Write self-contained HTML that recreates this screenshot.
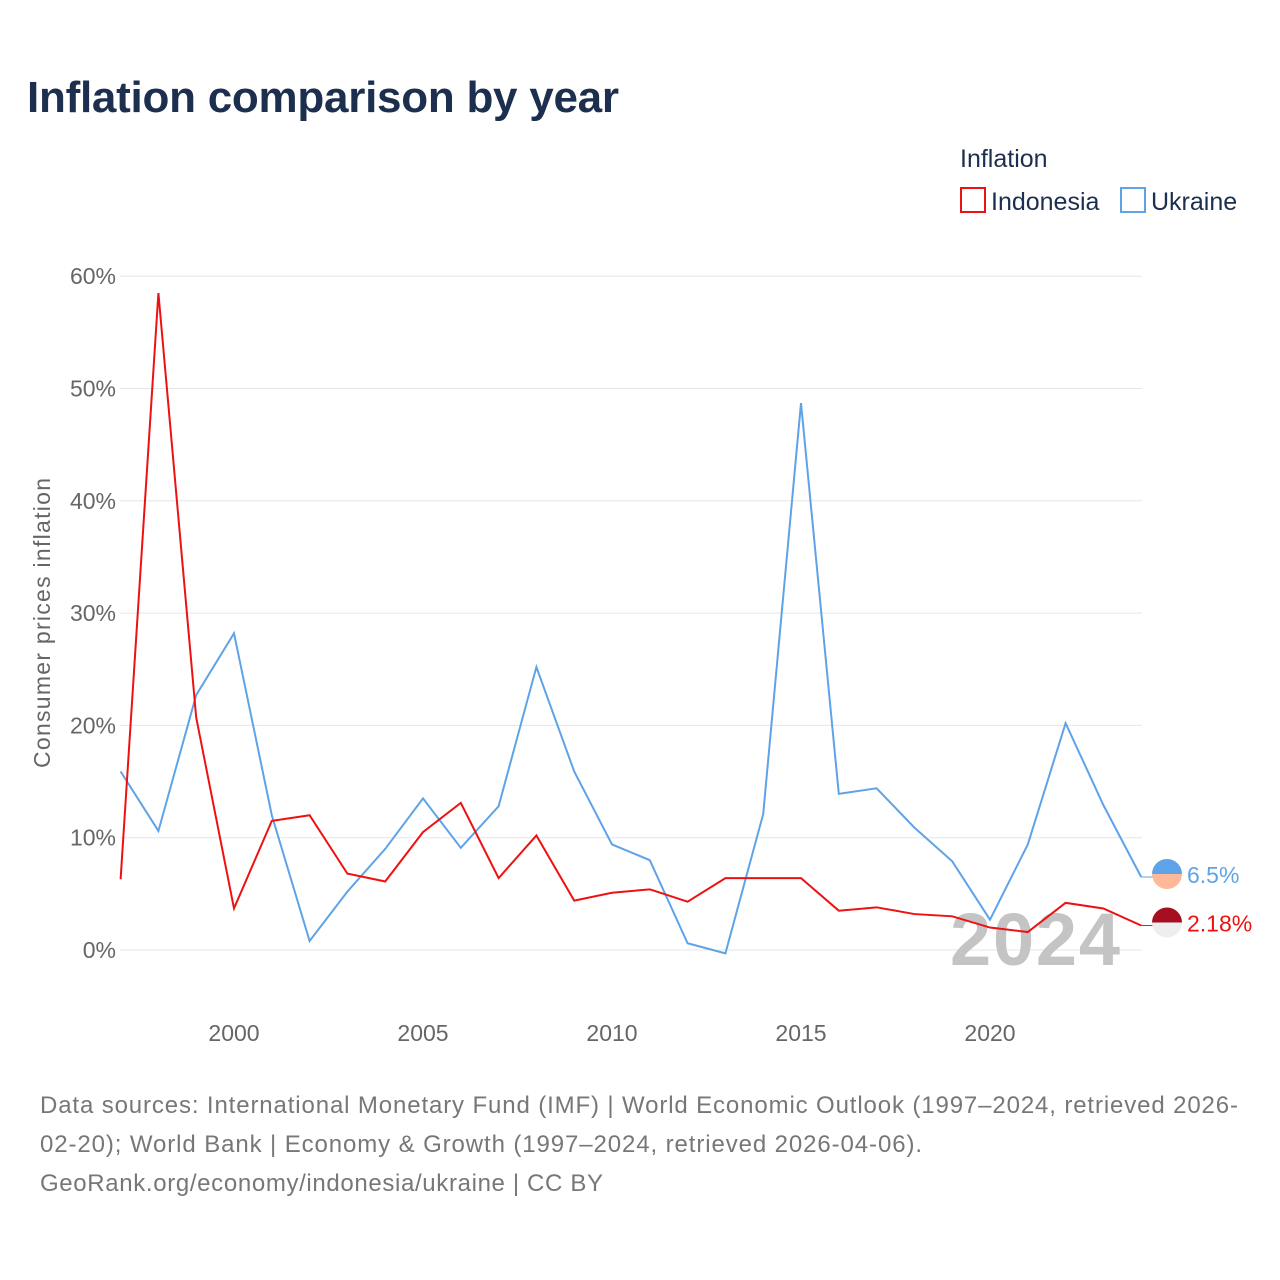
<!DOCTYPE html>
<html><head><meta charset="utf-8"><style>
body{margin:0;background:#fff;font-family:"Liberation Sans",sans-serif}
#wrap{position:relative;width:1280px;height:1280px;overflow:hidden}
</style></head><body>
<div id="wrap">
<svg id="chart" width="1280" height="1280">
<text x="27" y="112" font-size="44" font-weight="bold" fill="#1c2f4e" textLength="592">Inflation comparison by year</text>
<g>
<text x="960" y="167" font-size="25" fill="#1c2f4e">Inflation</text>
<g><rect x="961" y="188" width="24" height="24" fill="none" stroke="#ee1111" stroke-width="2"/><text x="991" y="210" font-size="25" fill="#1c2f4e">Indonesia</text></g>
<g><rect x="1121" y="188" width="24" height="24" fill="none" stroke="#5ea3e8" stroke-width="2"/><text x="1151" y="210" font-size="25" fill="#1c2f4e">Ukraine</text></g>
</g>
<g id="grid"></g><g id="xt"></g>
<text transform="translate(50,623) rotate(-90)" text-anchor="middle" font-size="23" fill="#666" textLength="290">Consumer prices inflation</text>
<text x="1120" y="965" text-anchor="end" font-size="74" font-weight="bold" fill="#c4c4c4" textLength="170">2024</text>
<g id="lines"></g>
<g font-size="24" fill="#777">
<text x="40" y="1113" textLength="1198">Data sources: International Monetary Fund (IMF) | World Economic Outlook (1997–2024, retrieved 2026-</text>
<text x="40" y="1152" textLength="882">02-20); World Bank | Economy &amp; Growth (1997–2024, retrieved 2026-04-06).</text>
<text x="40" y="1191" textLength="563">GeoRank.org/economy/indonesia/ukraine | CC BY</text>
</g>
</svg></div>
<script>
const years=[1997,1998,1999,2000,2001,2002,2003,2004,2005,2006,2007,2008,2009,2010,2011,2012,2013,2014,2015,2016,2017,2018,2019,2020,2021,2022,2023,2024];
const indonesia=[6.3,58.5,20.7,3.7,11.5,12.0,6.8,6.1,10.5,13.1,6.4,10.2,4.4,5.1,5.4,4.3,6.4,6.4,6.4,3.5,3.8,3.2,3.0,2.0,1.6,4.2,3.7,2.18];
const ukraine=[15.9,10.6,22.7,28.2,12.0,0.8,5.2,9.0,13.5,9.1,12.8,25.2,15.9,9.4,8.0,0.6,-0.3,12.1,48.7,13.9,14.4,10.9,7.9,2.7,9.4,20.2,12.9,6.5];
const yTicks=[0,10,20,30,40,50,60];
const xTicks=[2000,2005,2010,2015,2020];
const NS="http://www.w3.org/2000/svg";
const X=v=>120.6+(v-1997)*37.8;
const Y=v=>950-v*11.23;
function mk(tag,attrs,parent){const e=document.createElementNS(NS,tag);for(const k in attrs)e.setAttribute(k,attrs[k]);parent.appendChild(e);return e;}
const grid=document.getElementById('grid');
yTicks.forEach(t=>{
 const l=mk('line',{x1:120,x2:1142,y1:Y(t),y2:Y(t),stroke:'#e6e6e6','stroke-width':1},grid);
 
 
 const tx=mk('text',{x:116,y:Y(t)+8,'text-anchor':'end','font-size':23,fill:'#666'},grid);tx.textContent=t+'%';
 
 
});
const xt=document.getElementById('xt');
xTicks.forEach(t=>{
 const tx=mk('text',{x:X(t),y:1041,'text-anchor':'middle','font-size':23,fill:'#666'},xt);tx.textContent=t;
 
 
});
const lines=document.getElementById('lines');
function series(vals,color,name){
 const p=mk('polyline',{points:vals.map((v,i)=>X(years[i])+','+Y(v)).join(' '),fill:'none',stroke:color,'stroke-width':2},lines);
 
 
}
series(ukraine,'#5ea3e8','ukraine-line');
series(indonesia,'#ee1111','indonesia-line');
const last=years.length-1;
function endLabel(v,color,top,bot,text,name){
 const y=Y(v)-3;
 mk('line',{x1:X(years[last]),x2:1155,y1:Y(v),y2:Y(v),stroke:color,'stroke-width':1},lines);
 const g=mk('g',{},lines);
 
 
 mk('path',{d:`M1152,${y} a15,15 0 0 1 30,0 z`,fill:top},g);
 mk('path',{d:`M1152,${y} a15,15 0 0 0 30,0 z`,fill:bot},g);
 const t=mk('text',{x:1187,y:y+9,'font-size':23,fill:color},g);t.textContent=text;
}
endLabel(ukraine[last],'#5ea3e8','#5ea3e8','#ffb899',ukraine[last]+'%','ukraine-end-label');
endLabel(indonesia[last],'#ee1111','#a50f1f','#eeeeee',indonesia[last]+'%','indonesia-end-label');
</script>
</body></html>
